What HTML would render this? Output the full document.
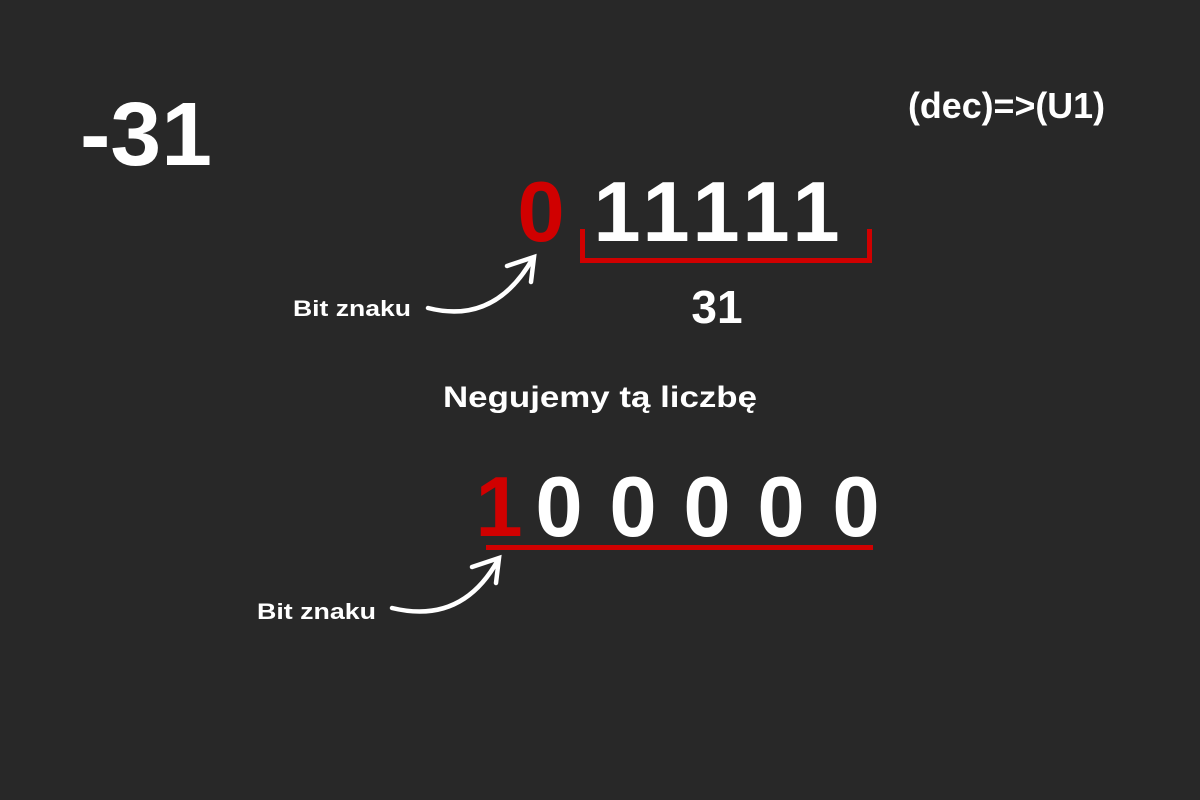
<!DOCTYPE html>
<html><head><meta charset="utf-8"><style>
html,body{margin:0;padding:0;background:#282828;}
svg{display:block;font-family:"Liberation Sans",sans-serif;font-weight:bold;}
</style></head><body>
<svg width="1200" height="800" viewBox="0 0 1200 800">
<rect width="1200" height="800" fill="#282828"/>
<text x="80" y="165" font-size="90" fill="#fff" textLength="132" lengthAdjust="spacingAndGlyphs">-31</text>
<text x="908" y="118" font-size="36" fill="#fff" textLength="197" lengthAdjust="spacingAndGlyphs">(dec)=&gt;(U1)</text>

<g font-size="85" text-anchor="middle">
<text x="541" y="241" fill="#d00000">0</text>
<text x="617" y="241" fill="#fff">1</text>
<text x="666" y="241" fill="#fff">1</text>
<text x="716" y="241" fill="#fff">1</text>
<text x="766" y="241" fill="#fff">1</text>
<text x="816" y="241" fill="#fff">1</text>
</g>
<path d="M582.5 229 V260.5 H869.5 V229" fill="none" stroke="#d00000" stroke-width="5"/>
<text x="717" y="323" font-size="46" fill="#fff" text-anchor="middle">31</text>

<text x="293" y="316" font-size="22" fill="#fff" textLength="118" lengthAdjust="spacingAndGlyphs">Bit znaku</text>
<g fill="none" stroke="#fff" stroke-width="4.5" stroke-linecap="round">
<path d="M428 308 Q495 325 533 258"/>
<path d="M507 266 L534 257 L531 282"/>
</g>

<text x="600" y="407" font-size="30" fill="#fff" text-anchor="middle" textLength="314" lengthAdjust="spacingAndGlyphs">Negujemy tą liczbę</text>

<g font-size="85" text-anchor="middle">
<text x="499" y="536" fill="#d00000">1</text>
<text x="559" y="536" fill="#fff">0</text>
<text x="633" y="536" fill="#fff">0</text>
<text x="707" y="536" fill="#fff">0</text>
<text x="781" y="536" fill="#fff">0</text>
<text x="856" y="536" fill="#fff">0</text>
</g>
<rect x="486" y="545" width="387" height="5" fill="#d00000"/>

<text x="257" y="619" font-size="22" fill="#fff" textLength="119" lengthAdjust="spacingAndGlyphs">Bit znaku</text>
<g fill="none" stroke="#fff" stroke-width="4.5" stroke-linecap="round">
<path d="M392 608 Q462 625 498 560"/>
<path d="M472 567 L499 558 L496 583"/>
</g>
</svg>
</body></html>
